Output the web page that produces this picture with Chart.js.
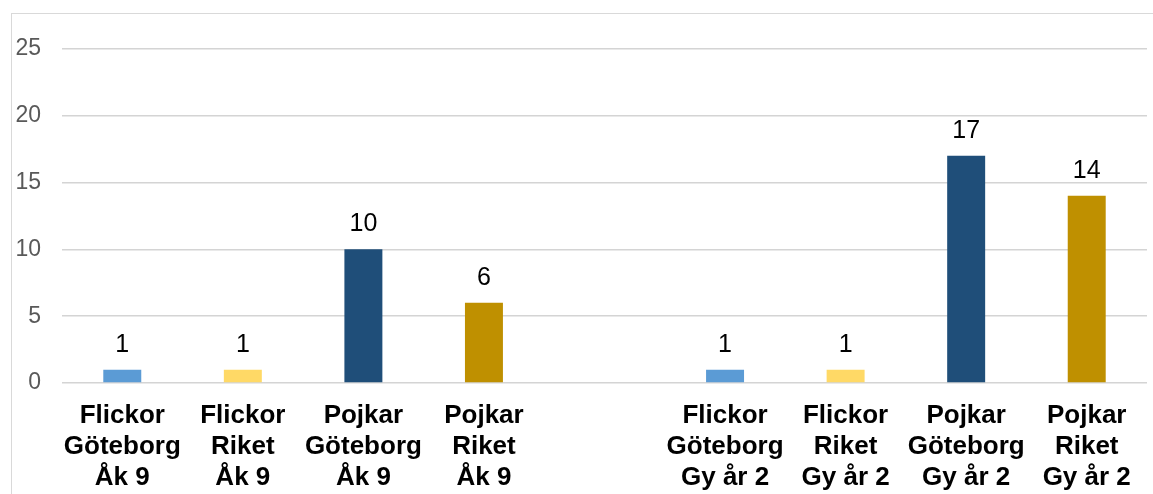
<!DOCTYPE html>
<html>
<head>
<meta charset="utf-8">
<script src="https://cdn.jsdelivr.net/npm/chart.js@4"></script>
<style>
    html, body { margin: 0; padding: 0; background: #fff; overflow: hidden; }
    #frame {
        position: absolute; left: 11px; top: 13px;
        width: 1160px; height: 500px;
        border-left: 1px solid #d9d9d9; border-top: 1px solid #d9d9d9;
    }
    #wrap { position: absolute; left: 12px; top: 14px; width: 1141px; height: 480px; }
</style>
</head>
<body>
<div id="frame"></div>
<div id="wrap"><canvas id="chart"></canvas></div>
<script>
// --- DATA ---
const categories = [
    ['Flickor', 'Göteborg', 'Åk 9'],
    ['Flickor', 'Riket', 'Åk 9'],
    ['Pojkar', 'Göteborg', 'Åk 9'],
    ['Pojkar', 'Riket', 'Åk 9'],
    '',
    ['Flickor', 'Göteborg', 'Gy år 2'],
    ['Flickor', 'Riket', 'Gy år 2'],
    ['Pojkar', 'Göteborg', 'Gy år 2'],
    ['Pojkar', 'Riket', 'Gy år 2']
];
const values = [1, 1, 10, 6, null, 1, 1, 17, 14];
const barColors = ['#5b9bd5', '#ffd966', '#1f4e79', '#bf9000', '#ffffff', '#5b9bd5', '#ffd966', '#1f4e79', '#bf9000'];
const yTicks = [0, 5, 10, 15, 20, 25];

const FONT = '"Liberation Sans", Arial, sans-serif';

// value labels above bars
const valueLabels = {
    id: 'valueLabels',
    afterDatasetsDraw(chart) {
        const ctx = chart.ctx;
        const meta = chart.getDatasetMeta(0);
        ctx.save();
        ctx.font = '25px ' + FONT;
        ctx.fillStyle = '#000';
        ctx.textAlign = 'center';
        ctx.textBaseline = 'alphabetic';
        meta.data.forEach((bar, i) => {
            if (values[i] == null) return;
            ctx.fillText(values[i], bar.x, bar.y - 18);
        });
        ctx.restore();
    }
};

new Chart(document.getElementById('chart'), {
    type: 'bar',
    data: {
        labels: categories,
        datasets: [{
            data: values,
            backgroundColor: barColors,
            barPercentage: 0.315,
            categoryPercentage: 1
        }]
    },
    options: {
        responsive: true,
        maintainAspectRatio: false,
        animation: false,
        layout: { padding: { top: 33, right: 6, left: 0, bottom: 0 } },
        plugins: { legend: { display: false }, tooltip: { enabled: false } },
        scales: {
            x: {
                afterFit: (axis) => { axis.height = 111; },
                grid: { display: false },
                border: { display: false },
                ticks: {
                    color: '#000',
                    padding: 9,
                    maxRotation: 0,
                    autoSkip: false,
                    font: { family: FONT, size: 26, weight: 'bold', lineHeight: '31px' }
                }
            },
            y: {
                min: 0,
                max: 25,
                afterBuildTicks: (axis) => { axis.ticks = yTicks.map(v => ({ value: v })); },
                afterFit: (axis) => { axis.width = 50; },
                grid: { color: '#d4d4d4', lineWidth: 1.5, drawTicks: false },
                border: { display: false },
                ticks: {
                    color: '#595959',
                    padding: 21,
                    font: { family: FONT, size: 23 }
                }
            }
        }
    },
    plugins: [valueLabels]
});
</script>
</body>
</html>
